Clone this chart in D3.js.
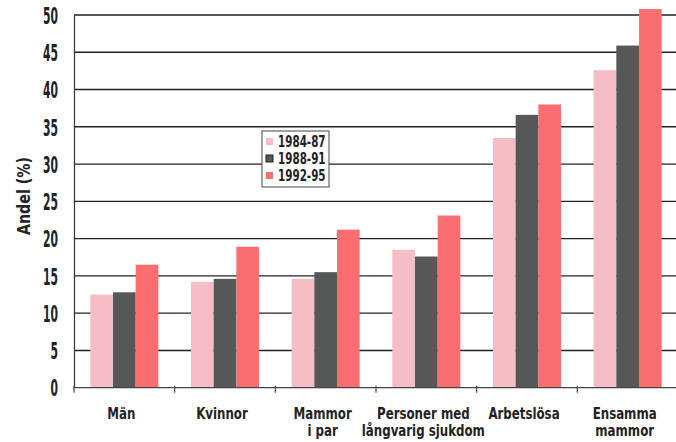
<!DOCTYPE html>
<html>
<head>
<meta charset="utf-8">
<script src="https://cdn.jsdelivr.net/npm/d3@7"></script>
<style>
  body { margin: 0; background: #fff; }
  svg text { font-family: "DejaVu Sans Condensed", "DejaVu Sans", sans-serif; font-weight: bold; fill: #222; }
</style>
</head>
<body>
<div id="chart"></div>
<script>
// categories (two-line labels split by \n)
var categories = ["Män", "Kvinnor", "Mammor\ni par", "Personer med\nlångvarig sjukdom", "Arbetslösa", "Ensamma\nmammor"];
var series_names = ["1984-87", "1988-91", "1992-95"];
var values_1984 = [12.5, 14.2, 14.6, 18.5, 33.5, 42.6];
var values_1988 = [12.8, 14.6, 15.5, 17.6, 36.6, 45.9];
var values_1992 = [16.5, 18.9, 21.2, 23.1, 38.0, 50.8];
var y_ticks = [0, 5, 10, 15, 20, 25, 30, 35, 40, 45, 50];
var colors = ["#f5bdc5", "#555857", "#fa6e71"];

var width = 676, height = 442;
var margin = {left: 74, right: -2, top: 15, bottom: 54};

var svg = d3.select('#chart').append('svg')
    .attr('width', width)
    .attr('height', height);

/**
 * Adds a horizontally squeezed text (the original uses a narrow typeface)
 */
function add_narrow_text(parent, x, y, label, size, sx, anchor) {
    let g = parent.append('g')
        .attr('transform', 'translate(' + x + ',' + y + ') scale(' + sx + ',1)');
    let t = g.append('text')
        .attr('font-size', size + 'px')
        .attr('text-anchor', anchor || 'middle');
    label.split('\n').forEach(function (line, i) {
        t.append('tspan').attr('x', 0).attr('dy', i === 0 ? 0 : 17).text(line);
    });
    return g;
}

var x = d3.scaleBand()
    .domain(categories)
    .range([margin.left, width - margin.right]);

var x_inner = d3.scaleBand()
    .domain(series_names)
    .range([0, x.bandwidth()])
    .paddingOuter(0.72);

var y = d3.scaleLinear()
    .domain([0, 50])
    .range([height - margin.bottom - 0.3, margin.top]);

// gridlines
svg.append('g').selectAll('line')
    .data(y_ticks.filter(function (d) { return d > 0; }))
    .enter().append('line')
    .attr('x1', margin.left)
    .attr('x2', width)
    .attr('y1', function (d) { return y(d); })
    .attr('y2', function (d) { return y(d); })
    .attr('stroke', '#222')
    .attr('stroke-width', 1.4);

// bars
var all_series = [values_1984, values_1988, values_1992];
series_names.forEach(function (s, si) {
    svg.append('g').selectAll('rect')
        .data(all_series[si])
        .enter().append('rect')
        .attr('x', function (d, i) { return x(categories[i]) + x_inner(s); })
        .attr('width', x_inner.bandwidth())
        .attr('y', function (d) { return y(d); })
        .attr('height', function (d) { return y(0) - y(d); })
        .attr('fill', colors[si]);
});

// y axis
var y_axis = svg.append('g')
    .attr('transform', 'translate(' + margin.left + ',0)')
    .call(d3.axisLeft(y).tickValues(y_ticks).tickSize(0).tickPadding(0));
y_axis.select('.domain').attr('stroke', '#333').attr('stroke-width', 1.2);
y_axis.selectAll('text')
    .attr('x', 0)
    .attr('dy', '0.36em')
    .attr('font-size', '23px')
    .attr('transform', 'translate(-16,0) scale(0.52,1)')
    .attr('fill', '#222');

// x axis line with ticks at band edges
svg.append('line')
    .attr('x1', margin.left)
    .attr('x2', width)
    .attr('y1', y(0))
    .attr('y2', y(0))
    .attr('stroke', '#444')
    .attr('stroke-width', 1.2);
svg.append('g').selectAll('line')
    .data(categories)
    .enter().append('line')
    .attr('x1', function (d) { return x(d); })
    .attr('x2', function (d) { return x(d); })
    .attr('y1', y(0) - 2)
    .attr('y2', y(0) + 5)
    .attr('stroke', '#444')
    .attr('stroke-width', 1.2);

// x labels
var x_labels = svg.append('g');
categories.forEach(function (c) {
    add_narrow_text(x_labels, x(c) + x.bandwidth() / 2 - 3, y(0) + 31, c, 16, 0.82);
});

// y axis title
add_narrow_text(svg, 30, 196, 'Andel (%)', 18, 0.88)
    .attr('transform', 'translate(30,196) rotate(-90) scale(0.88,1)');

// legend
var legend = svg.append('g').attr('transform', 'translate(262,131)');
legend.append('rect')
    .attr('width', 67)
    .attr('height', 56)
    .attr('fill', '#fff')
    .attr('stroke', '#444')
    .attr('stroke-width', 1);
series_names.forEach(function (s, i) {
    legend.append('rect')
        .attr('x', 4)
        .attr('y', 7 + i * 17)
        .attr('width', 7)
        .attr('height', 7)
        .attr('fill', colors[i])
        .attr('stroke', i === 1 ? '#222' : 'none');
    add_narrow_text(legend, 16, 16 + i * 17, s, 16, 0.72, 'start');
});
</script>
</body>
</html>
